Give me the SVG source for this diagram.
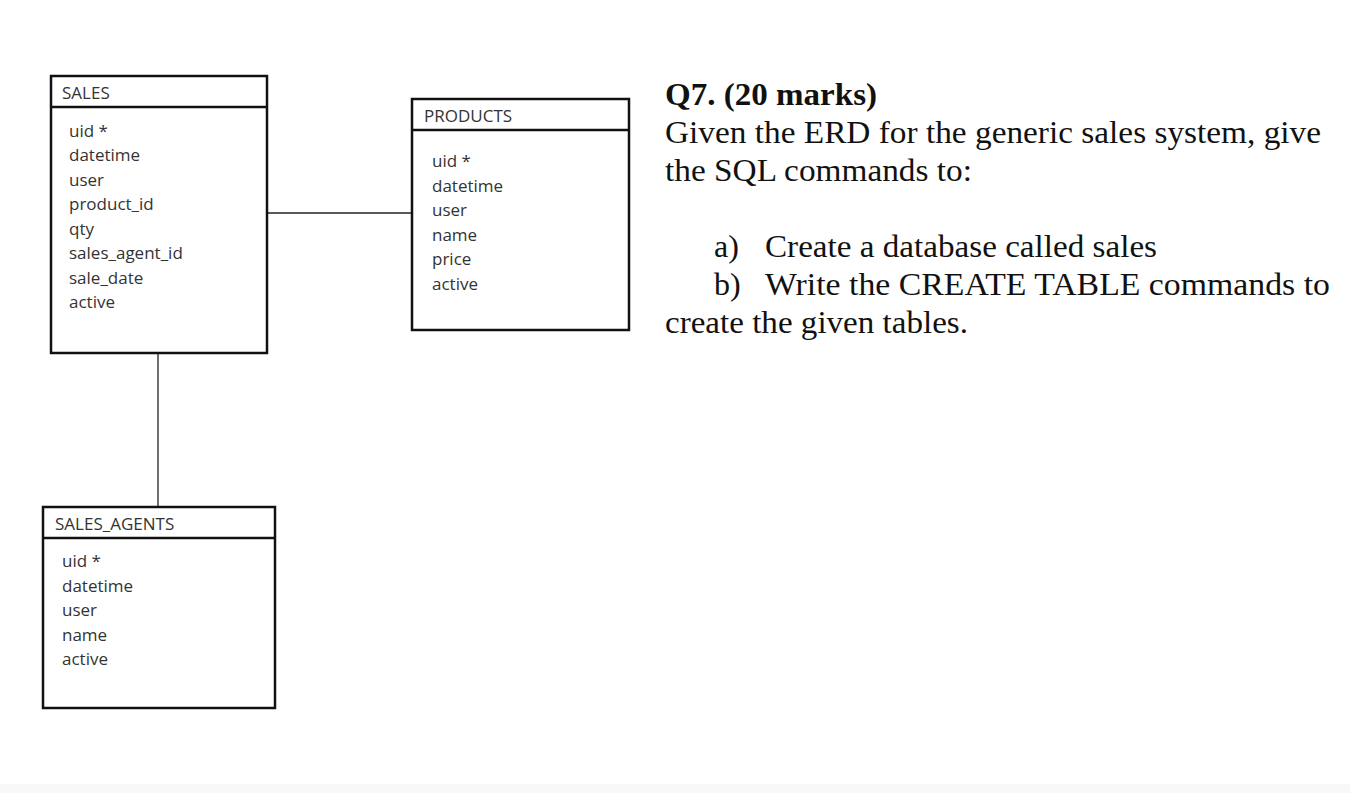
<svg xmlns="http://www.w3.org/2000/svg" width="1350" height="793" viewBox="0 0 1350 793">
<style>
.box{fill:#fff;stroke:#111;stroke-width:2.5}
.sep{stroke:#111;stroke-width:2.5}
.conn{stroke:#222;stroke-width:1.3;fill:none}
.hd{font-family:"Open Sans",sans-serif;font-size:17px;fill:#333}
.at{font-family:"Open Sans",sans-serif;font-size:17px;fill:#333}
.q{font-family:"Liberation Serif",serif;font-size:32px;fill:#111}
</style>
<rect width="1350" height="793" fill="#fff"/>
<rect x="0" y="784" width="1350" height="9" fill="#f8f8f8"/>
<g id="connectors">
<line class="conn" x1="267" y1="213" x2="412" y2="213"/>
<line class="conn" x1="158" y1="353" x2="158" y2="507"/>
</g>
<g id="sales">
<rect class="box" x="51" y="76" width="216" height="277"/>
<line class="sep" x1="51" y1="107" x2="267" y2="107"/>
<text class="hd" x="62" y="99">SALES</text>
<text class="at" x="69" y="137">uid *</text>
<text class="at" x="69" y="161">datetime</text>
<text class="at" x="69" y="186">user</text>
<text class="at" x="69" y="210">product_id</text>
<text class="at" x="69" y="235">qty</text>
<text class="at" x="69" y="259">sales_agent_id</text>
<text class="at" x="69" y="284">sale_date</text>
<text class="at" x="69" y="308">active</text>
</g>
<g id="products">
<rect class="box" x="412" y="99" width="217" height="231"/>
<line class="sep" x1="412" y1="130" x2="629" y2="130"/>
<text class="hd" x="424" y="122">PRODUCTS</text>
<text class="at" x="432" y="167">uid *</text>
<text class="at" x="432" y="192">datetime</text>
<text class="at" x="432" y="216">user</text>
<text class="at" x="432" y="241">name</text>
<text class="at" x="432" y="265">price</text>
<text class="at" x="432" y="290">active</text>
</g>
<g id="sales_agents">
<rect class="box" x="43" y="507" width="232" height="201"/>
<line class="sep" x1="43" y1="538" x2="275" y2="538"/>
<text class="hd" x="55" y="530">SALES_AGENTS</text>
<text class="at" x="62" y="567">uid *</text>
<text class="at" x="62" y="592">datetime</text>
<text class="at" x="62" y="616">user</text>
<text class="at" x="62" y="641">name</text>
<text class="at" x="62" y="665">active</text>
</g>
<g id="question">
<text class="q" x="665" y="105" font-weight="bold" textLength="212" lengthAdjust="spacingAndGlyphs">Q7. (20 marks)</text>
<text class="q" x="665" y="143" textLength="656" lengthAdjust="spacingAndGlyphs">Given the ERD for the generic sales system, give</text>
<text class="q" x="665" y="181" textLength="307" lengthAdjust="spacingAndGlyphs">the SQL commands to:</text>
<text class="q" x="714" y="257">a)</text>
<text class="q" x="765" y="257" textLength="392" lengthAdjust="spacingAndGlyphs">Create a database called sales</text>
<text class="q" x="714" y="295">b)</text>
<text class="q" x="765" y="295" textLength="565" lengthAdjust="spacingAndGlyphs">Write the CREATE TABLE commands to</text>
<text class="q" x="665" y="333" textLength="303" lengthAdjust="spacingAndGlyphs">create the given tables.</text>
</g>
</svg>
